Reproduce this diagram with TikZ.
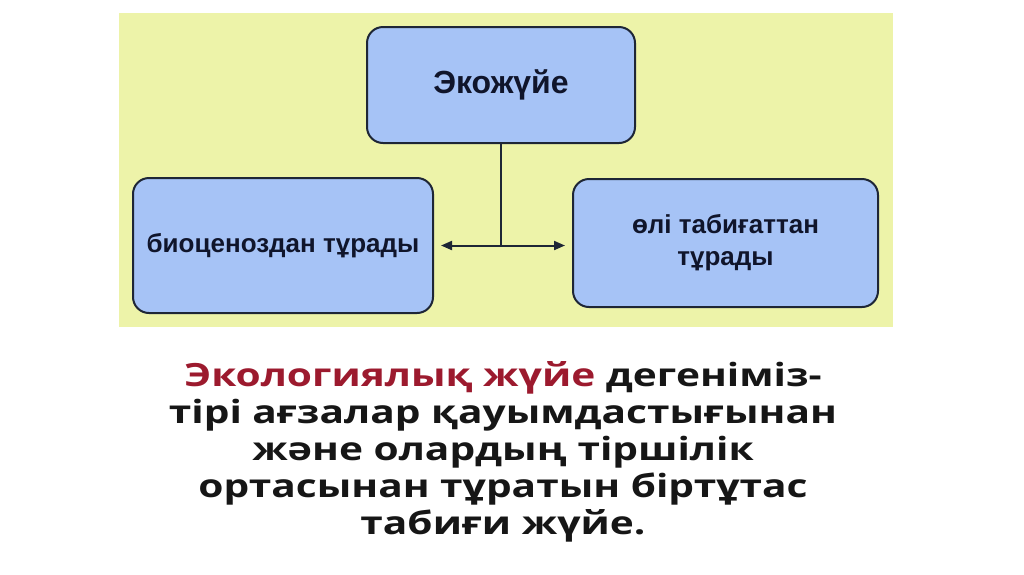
\documentclass[tikz,border=0pt]{standalone}
\usepackage{fontspec}
\setmainfont{Liberation Sans}
\newfontfamily\notefont[FakeStretch=1.27]{Open Sans}
\usetikzlibrary{arrows.meta,positioning,calc}
\definecolor{Panel}{HTML}{EDF3A9}
\definecolor{Cell}{HTML}{A6C3F6}
\definecolor{Edge}{HTML}{1E2636}
\definecolor{Ink}{HTML}{10152B}
\definecolor{Claret}{HTML}{9C1A2E}
\definecolor{Body}{HTML}{161616}
\tikzset{box/.style={draw=Edge,fill=Cell,line width=2pt,rounded corners=16pt,align=center,font=\bfseries\fontsize{26}{32}\selectfont,text=Ink},flow/.style={-{Triangle[length=11pt,width=9pt]},line width=2pt,draw=Edge,shorten >=7pt},link/.style={line width=2pt,draw=Edge},note/.style={align=center,inner sep=0pt,font=\notefont\bfseries\fontsize{32}{37}\selectfont,text=Body}}

\begin{document}
\begin{tikzpicture}[x=1pt,y=-1pt]
\useasboundingbox (0,0) rectangle (1024,574);
\fill[Panel] (119,13) rectangle (893,327);
\node[box,minimum width=268,minimum height=116,font=\bfseries\fontsize{32}{32}\selectfont] (eco) at (501,85) {Экожүйе};
\node[box,minimum width=300,minimum height=135] (bio) at (283,245.5) {биоценоздан тұрады};
\node[box,minimum width=305,minimum height=128] (oli) at (725.5,243) {өлі табиғаттан\\тұрады};
\draw[link] (eco.south) -- (eco.south |- bio.east) coordinate (j);
\draw[flow] (j) -- (bio.east);\draw[flow] (j) -- (oli.west |- j);
\node[note] (def) at (503,452) {{\color{Claret}Экологиялық жүйе} дегеніміз-\\тірі ағзалар қауымдастығынан\\және олардың тіршілік\\ортасынан тұратын біртұтас\\табиғи жүйе.};
\end{tikzpicture}
\end{document}
